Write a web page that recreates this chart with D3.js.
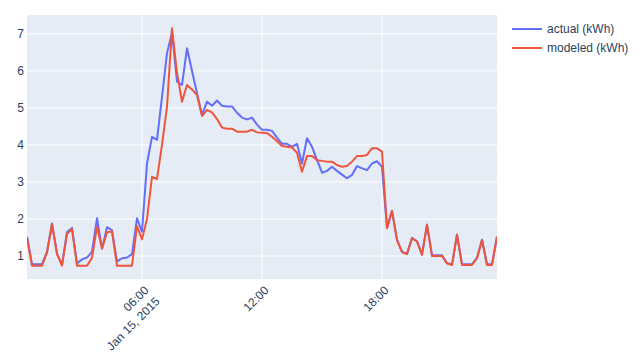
<!DOCTYPE html>
<html>
<head>
<meta charset="utf-8">
<script src="https://cdn.jsdelivr.net/npm/d3@7"></script>
<style>
  html, body { margin: 0; padding: 0; background: #fff; }
  svg { display: block; }
  text { font-family: Arial, "Liberation Sans", sans-serif; fill: #2a3f5f; }
</style>
</head>
<body>
<svg id="chart" width="643" height="357"></svg>
<script>
// ---- data ----
const startTime = "2015-01-15T00:15:00Z";
const stepMinutes = 15;
const actual = [
  1.52, 0.78, 0.78, 0.78, 1.11, 1.88, 1.07, 0.76, 1.65, 1.76, 0.80, 0.91, 0.96, 1.11, 2.02, 1.20, 1.78, 1.70, 0.85, 0.94, 0.96, 1.05, 2.02, 1.66,
  3.50, 4.22, 4.14, 5.30, 6.48, 7.04, 5.71, 5.62, 6.61, 6.00, 5.40,
  4.81, 5.17, 5.06, 5.20, 5.06, 5.04, 5.04, 4.87, 4.74, 4.69, 4.74, 4.55, 4.41, 4.41, 4.38,
  4.20, 4.03, 4.03, 3.95, 4.03, 3.50, 4.18, 3.95, 3.60, 3.25, 3.30, 3.41, 3.30, 3.20, 3.10, 3.19, 3.43, 3.37, 3.32, 3.50, 3.56, 3.41,
  1.76, 2.22, 1.44, 1.11, 1.06, 1.49, 1.40, 1.04, 1.85, 1.02, 1.02, 1.02, 0.81, 0.77, 1.58, 0.78, 0.78, 0.78, 0.95, 1.44, 0.78, 0.78, 1.52
];
const modeled = [
  1.50, 0.74, 0.74, 0.74, 1.10, 1.86, 1.05, 0.74, 1.60, 1.73, 0.74, 0.74, 0.74, 0.95, 1.79, 1.20, 1.64, 1.66, 0.74, 0.74, 0.74, 0.74, 1.81, 1.45,
  2.00, 3.14, 3.08, 4.00, 5.03, 7.15, 5.95, 5.17, 5.62, 5.50, 5.35,
  4.78, 4.95, 4.88, 4.70, 4.47, 4.44, 4.44, 4.36, 4.36, 4.36, 4.41, 4.34, 4.33, 4.32, 4.22,
  4.10, 3.97, 3.95, 3.93, 3.79, 3.28, 3.70, 3.70, 3.59, 3.57, 3.55, 3.55, 3.46, 3.41, 3.43, 3.55, 3.70, 3.70, 3.73, 3.91, 3.91, 3.82,
  1.75, 2.22, 1.43, 1.11, 1.05, 1.48, 1.39, 1.03, 1.84, 1.00, 1.00, 1.00, 0.80, 0.76, 1.57, 0.76, 0.76, 0.76, 0.94, 1.43, 0.76, 0.76, 1.52
];
const seriesNames = ["actual (kWh)", "modeled (kWh)"];
const seriesColors = ["#636efa", "#EF553B"];
const yTicks = [1, 2, 3, 4, 5, 6, 7];
const xTickTimes = ["2015-01-15T06:00:00Z", "2015-01-15T12:00:00Z", "2015-01-15T18:00:00Z"];
const xTickLabels = [["06:00", "Jan 15, 2015"], ["12:00"], ["18:00"]];

// ---- layout ----
const M = { left: 27, top: 15, right: 497, bottom: 279 };
const FONT = 'Arial, "Liberation Sans", sans-serif';
const t0 = new Date(startTime).getTime();
const times = actual.map((_, i) => new Date(t0 + i * stepMinutes * 60000));

const svg = d3.select("#chart");
const x = d3.scaleUtc().domain(d3.extent(times)).range([M.left, M.right]);
const y = d3.scaleLinear().domain([0.38, 7.51]).range([M.bottom, M.top]);

svg.append("rect")
  .attr("x", M.left).attr("y", M.top)
  .attr("width", M.right - M.left).attr("height", M.bottom - M.top)
  .attr("fill", "#E5ECF6");

// grid
const grid = svg.append("g");
grid.selectAll("line.h").data(yTicks).join("line")
  .attr("x1", M.left).attr("x2", M.right)
  .attr("y1", d => y(d)).attr("y2", d => y(d))
  .attr("stroke", "#fff").attr("stroke-width", 1);
const xTickDates = xTickTimes.map(d => new Date(d));
grid.selectAll("line.v").data(xTickDates).join("line")
  .attr("x1", d => x(d)).attr("x2", d => x(d))
  .attr("y1", M.top).attr("y2", M.bottom)
  .attr("stroke", "#fff").attr("stroke-width", 1);

// y axis
const yAxis = d3.axisLeft(y).tickValues(yTicks).tickSize(0).tickPadding(0);
const gy = svg.append("g").attr("transform", `translate(${M.left - 3},0)`).call(yAxis);
gy.select(".domain").remove();
gy.selectAll("text").attr("font-size", 12).attr("fill", "#2a3f5f")
  .attr("font-family", FONT);

// x axis
const xAxis = d3.axisBottom(x).tickValues(xTickDates).tickSize(0).tickFormat("");
const gx = svg.append("g").attr("transform", `translate(0,${M.bottom})`).call(xAxis);
gx.select(".domain").remove();
gx.selectAll(".tick").each(function(d, i) {
  const t = d3.select(this).append("text")
    .attr("transform", "translate(1,6) rotate(-45)")
    .attr("text-anchor", "end")
    .attr("font-size", 12).attr("fill", "#2a3f5f")
    .attr("font-family", FONT);
  xTickLabels[i].forEach((line, j) => {
    t.append("tspan").attr("x", 0).attr("dy", j === 0 ? "0.71em" : "1.3em").text(line);
  });
});

// lines
svg.append("clipPath").attr("id", "clip").append("rect")
  .attr("x", M.left).attr("y", M.top)
  .attr("width", M.right - M.left).attr("height", M.bottom - M.top);
const series = [actual, modeled];
const line = d3.line().x((d, i) => x(times[i])).y(d => y(d));
svg.append("g").attr("clip-path", "url(#clip)")
  .selectAll("path").data(series).join("path")
  .attr("d", d => line(d))
  .attr("fill", "none")
  .attr("stroke", (d, i) => seriesColors[i])
  .attr("stroke-width", 2)
  .attr("stroke-linejoin", "round");

// legend
const lg = svg.append("g").attr("transform", "translate(512,29)");
seriesNames.forEach((name, i) => {
  const g = lg.append("g").attr("transform", `translate(0,${i * 19})`);
  g.append("line").attr("x1", 0).attr("x2", 30).attr("y1", 0).attr("y2", 0)
    .attr("stroke", seriesColors[i]).attr("stroke-width", 2);
  g.append("text").attr("x", 35).attr("y", 0).attr("dy", "0.35em")
    .attr("font-size", 12).attr("fill", "#2a3f5f").attr("font-family", FONT).text(name);
});
</script>
</body>
</html>
